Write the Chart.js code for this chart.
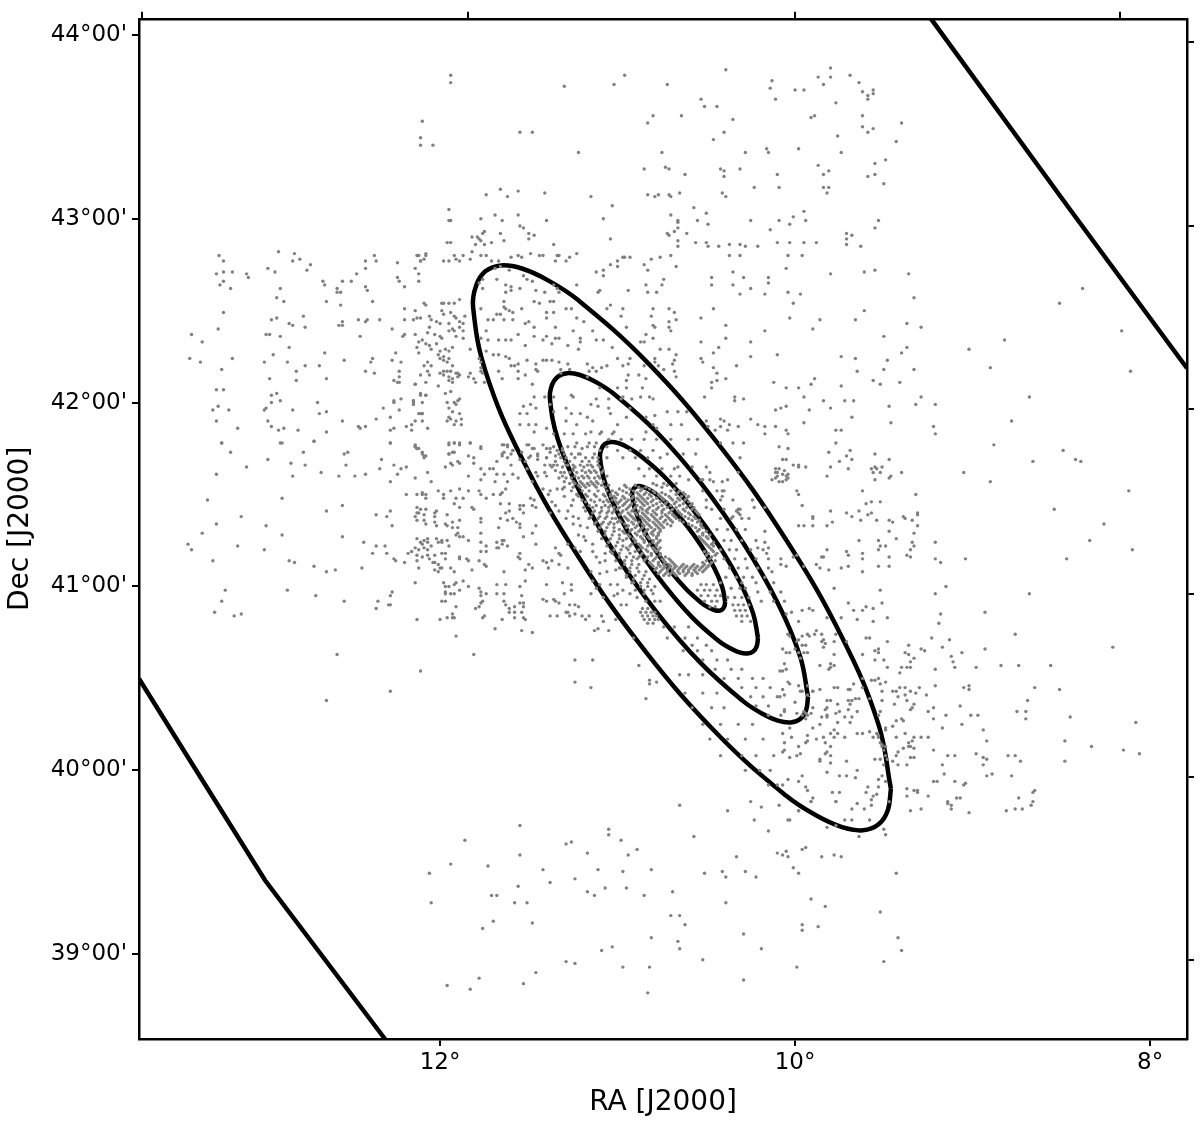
<!DOCTYPE html>
<html>
<head>
<meta charset="utf-8">
<title>M31 RA / Dec</title>
<script src="https://cdn.jsdelivr.net/npm/chart.js@4"></script>
<style>
  body { margin: 0; background: #fff; }
  canvas { display: block; }
</style>
</head>
<body>
<canvas id="skyChart" width="1200" height="1124"></canvas>
<script>
// axis ticks (degrees)
const raLabelTicks = [12, 10, 8];
const decLabelTicks = [44, 43, 42, 41, 40, 39];
const raTopTicks = [13.679, 11.842, 10.0, 8.169];
const decRightTicks = [43.962, 42.958, 41.964, 40.957, 39.966, 38.967];

// contours, [ra, dec]
const contourOuter = [[9.460,39.900],[9.478,39.782],[9.531,39.705],[9.618,39.674],[9.735,39.691],[9.880,39.754],[10.048,39.860],[10.432,40.192],[10.842,40.646],[11.226,41.170],[11.539,41.697],[11.743,42.167],[11.814,42.520],[11.796,42.638],[11.743,42.715],[11.656,42.746],[11.539,42.729],[11.394,42.666],[11.226,42.560],[10.842,42.228],[10.432,41.774],[10.048,41.250],[9.735,40.723],[9.531,40.253],[9.460,39.900]];
const contourSecond = [[9.927,40.400],[9.938,40.327],[9.971,40.279],[10.024,40.260],[10.097,40.270],[10.187,40.309],[10.291,40.375],[10.528,40.580],[10.780,40.861],[11.018,41.185],[11.211,41.511],[11.337,41.802],[11.381,42.020],[11.370,42.094],[11.337,42.141],[11.284,42.160],[11.211,42.150],[11.121,42.111],[11.018,42.045],[10.780,41.840],[10.528,41.559],[10.291,41.235],[10.097,40.909],[9.971,40.618],[9.927,40.400]];
const contourThird = [[10.209,40.720],[10.216,40.675],[10.236,40.646],[10.269,40.635],[10.313,40.641],[10.368,40.665],[10.432,40.705],[10.577,40.829],[10.731,41.0],[10.877,41.195],[10.995,41.392],[11.072,41.568],[11.099,41.700],[11.092,41.745],[11.072,41.774],[11.039,41.785],[10.995,41.779],[10.940,41.755],[10.877,41.715],[10.731,41.591],[10.577,41.421],[10.432,41.225],[10.313,41.028],[10.236,40.852],[10.209,40.720]];
const contourInner = [[10.394,40.918],[10.398,40.892],[10.410,40.875],[10.429,40.868],[10.455,40.872],[10.488,40.886],[10.525,40.909],[10.610,40.982],[10.702,41.083],[10.787,41.198],[10.857,41.314],[10.902,41.418],[10.918,41.496],[10.914,41.522],[10.902,41.539],[10.883,41.546],[10.857,41.542],[10.824,41.528],[10.787,41.505],[10.702,41.432],[10.610,41.331],[10.525,41.216],[10.455,41.100],[10.410,40.996],[10.394,40.918]];
const boundaryNorth = [[9.234,44.087],[8.451,43.05],[7.792,42.187]];
const boundarySouth = [[13.696,40.498],[13.437,40.097],[12.986,39.402],[12.31,38.539]];

// stars, flat lists: ra, dec, ra, dec ...
const starsEastUpper = [13.245,42.80,13.22,42.77,13.26,42.70,13.22,42.71,13.17,42.71,13.22,42.66,13.24,42.64,13.18,42.62,13.09,42.70,13.08,42.68,12.91,42.82,12.82,42.81,12.83,42.77,12.79,42.78,12.97,42.73,12.93,42.71,12.73,42.75,12.75,42.72,12.90,42.62,12.92,42.57,12.88,42.55,12.66,42.66,12.65,42.64,12.55,42.66,12.50,42.66,12.47,42.70,12.42,42.73,12.42,42.77,12.37,42.80,12.36,42.77,12.58,42.62,12.56,42.60,12.58,42.60,12.42,42.63,12.41,42.61,12.64,42.55,12.56,42.53,12.38,42.55,13.22,42.49,13.25,42.40,13.40,42.37,13.34,42.33,13.41,42.24,13.35,42.22,13.17,42.24,13.23,42.18,13.26,42.07,13.22,42.07,13.28,41.96,13.25,41.98,13.19,41.96,13.26,41.90,13.14,41.86,13.23,41.78,12.95,42.45,12.92,42.46,12.85,42.43,12.83,42.42,12.77,42.47,12.76,42.41,12.98,42.37,12.96,42.37,12.90,42.36,12.85,42.30,12.94,42.26,12.99,42.22,12.86,42.22,12.81,42.17,12.76,42.20,12.68,42.20,12.65,42.27,12.96,42.13,12.81,42.12,12.64,42.13,12.54,42.23,12.39,42.22,12.38,42.24,12.42,42.17,12.37,42.16,12.57,42.42,12.55,42.44,12.55,42.42,12.46,42.45,12.42,42.44,12.41,42.45,12.34,42.45,12.45,42.36,12.24,42.76,12.14,42.73,12.12,42.70,12.12,42.66,12.24,42.68,12.23,42.66,12.20,42.63,12.12,42.80,12.11,42.77,12.08,42.81,12.20,42.51,12.14,42.50,12.20,42.45,12.15,42.45,12.13,42.46,12.11,42.46,12.27,42.40,12.21,42.36,12.20,42.37,12.14,42.37,12.25,42.27,12.27,42.23,12.22,42.22,12.23,42.17,12.23,42.14,12.26,42.12,12.24,42.11,12.23,42.11,12.14,42.10,12.22,42.02,12.26,42.01,12.26,42.00,12.32,41.97,12.23,41.96,12.36,41.91,12.28,41.92,12.28,41.85,12.26,41.86,12.28,41.78,12.46,41.87,12.45,41.86,12.42,41.87,12.55,41.90,12.69,42.00,12.68,41.94,12.64,41.95,12.64,41.84,12.71,41.79,12.95,41.87,12.91,41.85,12.88,41.86,12.97,41.90,12.80,41.85,12.90,41.78,12.83,41.96,12.99,41.96,12.98,41.97,12.95,42.00,12.90,42.01,12.95,42.04,12.92,42.05,12.11,42.05,12.08,42.04,12.15,42.01,12.15,41.99,12.10,42.00,12.11,41.94,12.10,41.94,12.14,41.90,12.10,41.90,12.19,41.87,12.16,41.88,12.16,41.85,12.07,41.86,12.14,41.76,12.12,41.75];
const starsNorth = [11.94,43.78,11.94,43.74,11.30,43.72,11.02,43.73,10.96,43.78,10.72,43.73,10.39,43.81,10.13,43.75,10.14,43.71,10.11,43.65,10.00,43.70,9.95,43.70,9.87,43.77,9.80,43.82,9.80,43.77,9.84,43.73,9.69,43.78,9.64,43.74,9.62,43.69,9.56,43.70,9.56,43.68,9.59,43.67,9.59,43.65,9.77,43.63,10.53,43.65,10.51,43.61,10.44,43.61,10.80,43.56,10.83,43.52,10.64,43.56,10.35,43.54,9.91,43.55,9.89,43.56,9.62,43.56,9.40,43.52,12.10,43.53,12.11,43.44,12.11,43.40,12.04,43.40,11.55,43.47,11.48,43.47,10.40,43.47,10.46,43.43,9.62,43.50,9.59,43.47,9.56,43.49,9.76,43.45,9.43,43.42,11.22,43.36,10.75,43.36,10.28,43.36,10.16,43.38,10.15,43.36,9.98,43.38,9.74,43.36,10.85,43.27,10.73,43.28,10.71,43.27,10.62,43.24,10.42,43.27,10.40,43.26,10.40,43.23,10.31,43.27,10.10,43.24,9.87,43.29,9.81,43.26,9.84,43.24,9.55,43.30,9.49,43.32,9.59,43.23,9.55,43.24,9.50,43.19,10.23,43.17,10.09,43.17,9.84,43.17,9.81,43.17,9.82,43.14,10.41,43.14,10.39,43.12,10.65,43.14,10.71,43.13,10.70,43.12,10.83,43.13,10.79,43.12,10.77,43.13,11.15,43.12,11.03,43.07,11.41,43.14,11.56,43.15,11.66,43.16,11.62,43.12,11.74,43.13,11.95,43.05,11.95,42.99,11.94,42.99,11.77,43.00,11.69,43.02,11.65,42.99,11.56,43.02,11.40,42.99,11.08,43.00,10.70,43.02,10.57,43.06,10.50,43.03,10.55,42.99,10.49,42.97,10.66,42.99,10.66,42.98,10.66,42.95,10.25,42.99,10.09,42.99,10.01,43.01,10.03,42.97,9.94,42.99,9.95,43.04,10.14,42.94,9.53,42.99,9.55,42.95,9.71,42.92,9.68,42.91,9.71,42.89,9.71,42.86,11.55,42.96,11.53,42.95,11.50,42.92,11.47,42.91,11.50,42.89,11.66,42.92,11.64,42.88,11.75,42.93,11.76,42.92,11.82,42.90,11.79,42.90,11.78,42.89,11.77,42.88,11.80,42.86,11.75,42.86,11.71,42.87,11.96,42.87,11.94,42.87,11.36,42.86,11.04,42.89,10.72,42.92,10.71,42.91,10.68,42.93,10.61,42.92,10.66,42.88,10.66,42.85,10.56,42.87,10.49,42.85,10.37,42.86,10.28,42.85,10.10,42.87,9.95,42.87,12.13,42.80,12.08,42.80,12.11,42.77,12.09,42.78,11.98,42.77,11.95,42.77,11.92,42.80,11.91,42.78,11.89,42.77,11.87,42.80,11.83,42.78,11.82,42.82,11.77,42.80,11.74,42.80,11.71,42.77,11.67,42.77,11.60,42.79,11.56,42.80,11.54,42.79,11.49,42.81,11.44,42.80,11.42,42.80,11.34,42.80,11.33,42.80,11.35,42.77,11.29,42.77,11.27,42.79,11.23,42.81,11.00,42.77,10.97,42.79,10.96,42.79,10.81,42.78,10.70,42.80,10.37,42.80,10.04,42.80];
const starsWestUpper = [10.31,42.86,10.21,42.85,10.43,42.85,10.50,42.87,10.03,42.87,9.88,42.87,9.63,42.85,10.31,42.80,9.96,42.80,10.35,42.71,10.29,42.68,10.47,42.68,10.47,42.64,10.35,42.64,10.25,42.62,10.31,42.59,10.17,42.59,10.15,42.68,10.15,42.65,10.05,42.73,9.80,42.70,9.61,42.71,9.55,42.72,9.36,42.70,10.04,42.60,9.97,42.59,10.01,42.54,9.33,42.57,10.46,42.51,9.61,42.50,10.53,42.46,10.03,42.46,9.86,42.45,9.66,42.45,10.39,42.42,10.17,42.39,9.90,42.40,9.37,42.43,9.29,42.41,9.50,42.36,8.51,42.54,8.38,42.62,8.16,42.39,8.11,42.17,8.82,42.34,9.02,42.29,8.90,42.19,10.39,42.35,10.25,42.33,10.53,42.33,10.43,42.30,10.46,42.27,10.25,42.25,10.10,42.26,9.37,42.30,9.40,42.27,9.74,42.25,9.66,42.24,9.48,42.23,10.33,42.20,10.46,42.19,10.44,42.16,9.65,42.17,9.50,42.18,9.33,42.18,10.53,42.24,10.52,42.22,10.39,42.13,10.44,42.12,10.47,42.11,10.47,42.08,10.12,42.11,10.05,42.08,9.98,42.08,9.91,42.10,9.89,42.13,9.74,42.09,9.56,42.12,9.52,42.10,9.41,42.11,10.51,42.03,10.34,42.03,10.34,42.01,10.29,42.02,9.95,42.03,9.84,42.01,9.72,42.01,9.67,42.01,9.29,42.03,9.21,41.99,9.32,41.99,9.47,41.98,8.68,42.03,10.05,41.98,10.08,41.97,10.11,41.96,9.92,41.96,9.80,41.97,9.68,41.92,10.25,41.91,10.21,41.88,10.42,41.91,10.40,41.90,10.50,41.90,10.49,41.87,10.45,41.85,10.42,41.87,10.38,41.85,10.37,41.88,10.32,41.87,10.17,41.87,10.17,41.83,10.11,41.87,10.05,41.85,10.04,41.83,9.95,41.89,9.77,41.85,9.74,41.85,9.77,41.78,9.46,41.89,9.22,41.87,9.21,41.83,8.78,41.90,8.88,41.77,10.42,41.78,10.35,41.78,10.29,41.78,10.09,41.76,10.04,41.75,10.31,41.70,9.81,41.73,9.71,41.71,9.69,41.74,9.68,41.69,9.75,41.68,9.80,41.65,9.70,41.64,9.82,41.60,9.55,41.72,9.47,41.69,9.51,41.65,9.57,41.64,9.55,41.65,9.54,41.64,9.52,41.62,9.56,41.62,9.55,41.58,9.47,41.59,9.46,41.60,9.40,41.62,10.07,41.69,10.05,41.69,10.01,41.66,9.98,41.65,9.98,41.66,9.94,41.65,10.11,41.64,10.09,41.64,10.06,41.63,10.04,41.61,10.11,41.62,10.10,41.62,10.07,41.61,10.05,41.60,10.10,41.60,10.13,41.58,10.11,41.59,10.09,41.57,10.07,41.57,10.05,41.58,10.04,41.59,8.49,41.74,8.42,41.69,8.39,41.68,8.66,41.68,9.05,41.62,8.90,41.57,10.48,41.62,10.32,41.62,10.46,41.57,10.41,41.57,10.52,41.58,10.41,41.52,10.41,41.49,9.99,41.52,9.98,41.50,9.96,41.44,9.62,41.52,9.60,41.45,9.57,41.46,9.52,41.46,9.32,41.50,8.12,41.52,8.54,41.42,8.26,41.34,8.34,41.25,8.10,41.20,8.47,41.15,10.24,41.47,10.23,41.43,10.17,41.43,10.33,41.41,10.31,41.42,10.32,41.40,10.31,41.39,10.35,41.38,10.50,41.43,9.90,41.38,9.90,41.37,9.98,41.33,9.95,41.33,9.90,41.33,9.82,41.33,9.79,41.35,9.80,41.41,9.71,41.40,9.68,41.38,9.64,41.41,9.59,41.39,9.57,41.40,9.63,41.36,9.54,41.36,9.47,41.36,9.45,41.35,9.39,41.38,9.38,41.37,9.34,41.36,9.31,41.40,9.31,41.39,9.31,41.33,9.47,41.30,9.33,41.29,9.43,41.26,9.64,41.25,9.53,41.25,9.52,41.22,9.49,41.22,9.53,41.20,9.33,41.22,9.34,41.24,9.35,41.20,9.21,41.24,10.17,41.30,10.21,41.21,10.15,41.21,10.16,41.18,10.15,41.15,10.17,41.24,9.82,41.20,9.85,41.16,9.84,41.16,9.71,41.19,9.70,41.17,9.62,41.18,9.62,41.15,9.47,41.16,9.37,41.17,9.35,41.16,9.21,41.15,9.18,41.13,9.04,41.15,10.08,41.15,9.99,41.17,10.01,41.16,10.08,41.12,10.05,41.11,9.95,41.11,10.13,41.08,9.88,41.12,9.86,41.10,9.81,41.09,9.74,41.10,9.70,41.11,9.62,41.08,9.53,41.11,9.47,41.11,9.78,40.99,9.52,40.98,9.21,40.96,9.15,41.00,8.68,40.96];
const starsWestLower = [8.93,40.86,9.18,40.85,9.19,40.80,8.76,40.74,8.93,40.66,8.21,40.67,9.23,40.72,9.13,40.71,9.17,40.67,9.36,40.68,9.29,40.66,9.27,40.65,9.38,40.64,9.36,40.63,9.33,40.61,9.35,40.59,9.40,40.56,9.37,40.56,9.35,40.56,9.41,40.53,9.12,40.62,9.06,40.64,9.11,40.59,9.10,40.56,9.21,40.55,8.98,40.56,8.84,40.57,8.74,40.57,8.56,40.57,9.21,40.46,9.02,40.46,9.05,40.45,9.02,40.44,8.65,40.45,8.51,40.44,9.41,40.45,9.38,40.45,9.30,40.45,9.45,40.43,9.43,40.43,9.35,40.43,9.32,40.42,9.38,40.41,9.42,40.40,9.26,40.41,9.37,40.38,8.69,40.38,9.33,40.36,9.34,40.34,9.35,40.33,9.44,40.36,9.22,40.34,9.25,40.32,9.07,40.35,9.01,40.30,8.97,40.30,9.15,40.30,9.22,40.28,8.75,40.32,8.70,40.32,8.70,40.28,8.45,40.29,8.08,40.26,9.43,40.27,9.40,40.28,9.39,40.27,9.45,40.24,9.49,40.23,9.49,40.22,9.17,40.23,9.06,40.25,8.94,40.22,9.43,40.18,9.38,40.20,9.33,40.18,9.29,40.18,9.25,40.18,9.36,40.15,9.34,40.16,9.36,40.13,9.39,40.12,9.35,40.13,9.33,40.12,8.92,40.16,8.48,40.16,8.33,40.13,8.15,40.11,8.06,40.09,8.48,40.05,9.22,40.11,9.42,40.10,9.43,40.08,9.45,40.05,9.42,40.03,9.37,40.03,9.35,40.07,9.33,40.07,9.14,40.08,9.10,40.08,9.17,40.03,8.98,40.09,8.94,40.07,8.92,40.06,8.94,40.03,8.80,40.08,8.76,40.08,8.73,40.05,9.16,39.98,8.89,39.98,8.92,39.97,8.78,39.97,9.10,39.94,9.22,39.94,9.20,39.94,9.05,39.92,9.04,39.93,9.37,39.90,9.33,39.89,9.31,39.89,9.31,39.88,9.37,39.86,9.25,39.86,8.65,39.89,8.66,39.88,8.74,39.85,8.66,39.83,8.67,39.81,9.09,39.85,9.07,39.85,9.14,39.83,9.14,39.82,9.12,39.81,9.12,39.79,9.35,39.78,9.29,39.79,9.02,39.77,8.81,39.78,8.76,39.79,8.72,39.79];
const starsInsideSouth = [9.70,40.91,9.67,40.87,9.62,40.87,9.60,40.89,9.56,40.88,9.51,40.91,9.74,40.83,9.65,40.82,9.56,40.81,9.48,40.83,9.82,40.83,9.77,40.74,9.71,40.70,9.60,40.72,9.58,40.72,9.48,40.70,9.53,40.66,9.55,40.65,9.53,40.64,9.62,40.63,9.55,40.60,9.50,40.60,9.48,40.56,9.78,40.70,9.78,40.63,9.86,40.57,9.80,40.58,9.78,40.57,9.80,40.56,9.81,40.55,9.85,40.74,9.88,40.76,9.89,40.74,9.93,40.74,9.96,40.73,9.92,40.73,9.98,40.81,9.96,40.87,9.92,40.88,9.90,40.87,9.85,40.70,9.84,40.71,9.83,40.69,9.84,40.67,9.94,40.68,9.96,40.68,9.95,40.64,9.93,40.64,9.62,40.50,9.57,40.49,9.55,40.49,9.53,40.50,9.52,40.47,9.49,40.48,9.67,40.47,9.62,40.45,9.69,40.44,9.70,40.44,9.78,40.45,9.76,40.45,9.86,40.44,9.90,40.43,9.51,40.43,9.58,40.39,9.64,40.39,9.66,40.39,9.70,40.38,9.68,40.38,9.51,40.38,9.80,40.38,9.82,40.38,9.76,40.36,9.69,40.36,9.70,40.33,9.82,40.34,9.83,40.33,9.65,40.32,9.52,40.32,9.53,40.30,9.75,40.32,9.77,40.31,9.82,40.30,9.82,40.29,9.85,40.29,9.72,40.29,9.68,40.29,9.76,40.26,9.69,40.26,9.86,40.25,9.90,40.23,9.78,40.22,9.76,40.20,9.80,40.20,9.78,40.18,9.84,40.18,9.88,40.17,9.93,40.19,9.93,40.16,9.94,40.15,9.72,40.18,9.65,40.20,9.62,40.20,9.58,40.21,9.56,40.18,9.53,40.19,9.54,40.20,9.53,40.18,9.52,40.15,9.51,40.14,9.49,40.13,9.51,40.13,9.50,40.11,9.49,40.08,9.48,40.06,9.52,40.06,9.55,40.06,9.50,40.03,9.83,40.15,9.80,40.13,9.80,40.08,9.83,40.09,9.82,40.10,9.86,40.06,9.86,40.05,9.80,40.04,9.71,40.05,9.98,40.13,9.99,40.08,9.97,40.09,10.03,40.07,10.06,40.11,10.07,40.10,10.06,40.15,10.02,40.18,10.07,40.20,9.82,39.99,9.75,39.97,9.71,39.97,9.66,39.96,9.65,40.00,9.51,39.97,9.53,39.95,9.49,39.94,9.96,39.97,10.04,39.95,9.98,39.94,9.94,39.91,9.93,39.89,10.07,39.92,9.59,39.91,9.53,39.91,9.79,39.88,9.75,39.88,9.60,39.88,9.56,39.86,9.54,39.87,9.57,39.84,9.90,39.85,9.91,39.83,9.77,39.83,9.65,39.82,9.47,39.83,9.68,39.79,9.61,39.79,9.57,39.81,9.98,39.78,10.04,39.73,9.82,39.69,9.77,39.70,9.72,39.73,9.68,39.73,9.58,39.73,9.50,39.68,9.49,39.65,9.64,39.64,10.05,40.85,10.02,40.86,10.04,40.74,10.03,40.73,9.98,40.71,9.99,40.70,10.00,40.66,9.98,40.64,9.97,40.61,10.03,40.64,10.05,40.64,10.07,40.66,10.06,40.58,10.05,40.55,10.07,40.54,10.085,40.54,10.04,40.48,10.03,40.47,9.98,40.46,9.93,40.46,10.07,40.44,9.97,40.43,9.96,40.43,9.93,40.41,9.90,40.43,10.06,40.41,10.085,40.40,10.00,40.37,10.06,40.33,10.06,40.32,9.94,40.31,9.95,40.32,9.93,40.30,9.96,40.30,9.94,40.28,9.99,40.31,9.91,40.31,9.90,40.34,10.03,40.23];
const starsEastLower = [13.23,41.78,12.89,41.78,12.71,41.79,13.18,41.73,13.09,41.65,13.26,41.61,12.97,41.69,12.84,41.67,12.77,41.73,12.76,41.66,12.83,41.60,12.67,41.62,12.54,41.72,12.52,41.73,12.53,41.66,12.57,41.60,12.48,41.60,12.42,41.61,12.34,41.64,12.33,41.69,12.26,41.66,12.22,41.64,12.19,41.65,12.24,41.61,12.28,41.57,12.28,41.78,12.14,41.77,12.13,41.75,12.10,41.72,12.09,41.71,12.09,41.70,12.14,41.59,12.07,41.62,12.05,41.57,11.95,41.77,11.92,41.78,11.89,41.77,11.95,41.72,11.92,41.73,11.94,41.67,11.89,41.67,11.97,41.65,11.93,41.66,11.84,41.71,11.84,41.60,13.31,41.47,12.89,41.48,13.26,41.34,13.12,41.38,12.98,41.33,13.34,41.29,12.89,41.28,13.42,41.23,13.40,41.20,13.14,41.22,12.99,41.20,13.28,41.14,12.64,41.41,12.55,41.44,12.85,41.14,12.82,41.13,12.71,41.11,12.64,41.08,12.59,41.09,12.55,41.27,12.43,41.24,12.44,41.10,12.36,41.39,12.28,41.41,12.30,41.38,12.27,41.33,12.38,41.18,12.36,41.22,12.31,41.22,12.30,41.18,12.26,41.15,12.25,41.14,12.20,41.13,12.19,41.50,12.13,41.50,12.10,41.51,12.10,41.50,12.08,41.50,12.08,41.48,12.01,41.52,11.98,41.50,11.98,41.48,11.94,41.52,11.91,41.48,11.89,41.53,11.87,41.48,11.92,41.45,11.89,41.43,11.84,41.52,12.13,41.43,12.11,41.42,12.08,41.42,12.13,41.40,12.12,41.40,12.09,41.39,12.14,41.38,12.13,41.36,12.09,41.36,12.08,41.34,12.02,41.41,12.03,41.40,12.03,41.38,12.03,41.35,12.02,41.33,11.96,41.39,11.97,41.34,11.96,41.33,11.93,41.35,11.89,41.36,11.93,41.32,11.90,41.32,11.90,41.29,11.91,41.28,11.89,41.27,11.87,41.27,11.84,41.25,12.13,41.26,12.11,41.24,12.09,41.25,12.07,41.26,12.07,41.24,12.10,41.23,12.14,41.21,12.12,41.20,12.09,41.21,12.07,41.20,12.05,41.22,12.02,41.26,12.01,41.24,11.99,41.25,11.99,41.24,11.96,41.25,11.95,41.22,12.18,41.18,12.16,41.19,12.13,41.17,12.10,41.16,12.07,41.17,12.06,41.15,12.03,41.17,11.99,41.18,11.97,41.18,12.13,41.14,11.97,41.15,12.04,41.13,12.03,41.13,12.01,41.12,12.00,41.10,11.99,41.10,12.12,41.10,12.03,41.09,12.01,41.08,11.94,41.10,11.92,41.08,11.89,41.16,11.89,41.15,11.85,41.15,11.84,41.14,12.14,41.02,11.98,41.02,11.97,41.00,11.95,41.00,11.92,41.01,11.91,41.02,11.87,41.03,11.84,41.00,11.89,40.98,13.21,40.98,13.23,40.92,13.27,40.86,13.16,40.84,13.12,40.85,12.86,40.98,12.70,40.95,12.54,40.92,12.35,40.92,12.36,40.88,12.29,40.90,12.28,40.90,12.28,40.95,12.27,40.97,11.99,40.92,11.97,40.97,11.97,40.96,11.94,40.96,11.92,40.96,11.97,40.92,11.91,40.89,12.13,40.82,12.00,40.82,11.96,40.83,11.93,40.83,11.93,40.85,11.92,40.83,11.91,40.73,12.58,40.63,12.11,40.54,12.28,40.43,12.64,40.38];
const starsSouth = [11.55,39.70,11.86,39.62,11.55,39.54,11.94,39.49,12.06,39.44,11.73,39.48,12.05,39.28,11.05,39.68,11.05,39.65,11.29,39.60,11.26,39.61,10.98,39.62,11.17,39.55,10.94,39.54,10.89,39.57,11.42,39.46,11.11,39.46,10.97,39.45,10.81,39.46,11.24,39.41,11.38,39.39,11.56,39.37,11.71,39.32,11.68,39.32,11.58,39.28,11.51,39.28,11.07,39.36,10.95,39.36,11.17,39.34,11.13,39.32,10.85,39.32,10.69,39.34,10.65,39.81,10.57,39.64,10.38,39.78,10.19,39.80,10.09,39.81,10.23,39.73,10.03,39.73,10.15,39.67,9.98,39.78,10.25,39.83,9.91,39.83,9.77,39.83,10.10,39.55,10.07,39.54,10.05,39.56,10.04,39.53,9.96,39.57,9.94,39.58,10.33,39.53,9.85,39.53,9.78,39.54,9.74,39.53,10.01,39.47,9.98,39.44,10.51,39.44,10.41,39.45,10.39,39.42,10.28,39.45,10.22,39.42,9.43,39.44,10.39,39.28,9.91,39.30,9.83,39.26,9.52,39.23,10.70,39.21,10.65,39.21,10.62,39.16,9.96,39.16,9.96,39.13,9.87,39.15,11.70,39.18,11.76,39.14,11.48,39.17,10.81,39.09,10.66,39.07,10.65,39.03,10.29,39.11,10.19,39.03,11.09,39.02,11.03,39.04,9.42,39.09,9.40,39.02,11.29,38.96,11.24,38.95,10.97,38.93,10.82,38.93,10.52,38.97,9.99,38.93,9.50,38.96,11.46,38.90,11.78,38.87,11.53,38.84,11.96,38.83,11.83,38.81,10.29,38.86,10.83,38.79];
const starsMidEast = [11.83,41.78,11.77,41.76,11.81,41.70,11.81,41.67,11.65,41.77,11.62,41.77,11.64,41.73,11.65,41.71,11.68,41.68,11.60,41.66,11.77,41.64,11.72,41.64,11.70,41.64,11.68,41.61,11.64,41.61,11.59,41.61,11.75,41.61,11.77,41.58,11.69,41.57,11.62,41.57,11.56,41.59,11.78,41.52,11.77,41.50,11.74,41.48,11.70,41.50,11.63,41.53,11.65,41.51,11.66,41.50,11.82,41.43,11.81,41.42,11.66,41.45,11.61,41.45,11.61,41.41,11.63,41.40,11.55,41.44,11.55,41.42,11.53,41.44,11.53,41.40,11.77,41.37,11.77,41.35,11.66,41.37,11.62,41.36,11.59,41.37,11.57,41.35,11.67,41.32,11.55,41.34,11.55,41.32,11.77,41.29,11.53,41.27,11.48,41.29,11.46,41.33,11.77,41.24,11.74,41.22,11.77,41.19,11.74,41.19,11.68,41.24,11.65,41.25,11.64,41.25,11.65,41.23,11.62,41.22,11.68,41.21,11.67,41.21,11.46,41.23,11.55,41.18,11.56,41.16,11.55,41.15,11.78,41.14,11.75,41.12,11.74,41.11,11.82,41.09,11.64,41.08,11.50,41.12,11.48,41.10,11.52,41.09,11.42,41.14,11.40,41.13,11.37,41.14,11.39,41.10,11.33,41.18,11.32,41.17,11.33,41.12,11.28,41.10,11.78,40.99,11.77,40.97,11.77,40.95,11.74,40.96,11.76,40.92,11.77,40.91,11.78,40.89,11.80,40.88,11.75,40.84,11.76,40.83,11.68,41.01,11.63,41.01,11.68,40.96,11.64,40.96,11.64,40.92,11.63,40.90,11.54,40.95,11.55,40.91,11.53,40.91,11.53,40.89,11.61,40.88,11.61,40.86,11.58,40.89,11.58,40.86,11.54,40.86,11.58,40.83,11.53,40.83,11.52,40.82,11.65,40.82,11.55,41.00,11.52,41.03,11.40,41.01,11.31,41.02,11.26,41.01,11.26,40.98,11.30,40.96,11.42,40.93,11.40,40.92,11.36,40.93,11.33,40.91,11.35,40.92,11.27,40.90,11.24,40.90,11.22,40.89,11.29,40.86,11.28,40.86,11.24,40.85,11.20,40.84,11.16,40.84,11.38,40.84,11.34,40.84,11.27,40.84,11.18,40.82,11.08,40.81,11.09,40.84,11.01,40.82,10.98,40.90,10.95,40.90,11.69,40.77,11.54,40.76,11.48,40.75,11.81,40.63,11.13,40.76,11.11,40.77,11.05,40.76,10.91,40.72,11.24,40.60,11.14,40.60,10.88,40.57,11.24,40.48,11.15,40.45,10.82,40.49,10.82,40.47,10.78,40.48,10.84,40.39];
const starsBetween = [11.50,41.77,11.48,41.75,11.59,41.74,11.60,41.72,11.54,41.73,11.49,41.71,11.45,41.71,11.45,41.69,11.55,41.69,11.52,41.68,11.40,41.75,11.38,41.73,11.40,41.70,11.41,41.66,11.38,41.66,11.35,41.71,11.33,41.72,11.31,41.74,11.34,41.66,11.35,41.63,11.41,41.62,11.40,41.60,11.46,41.62,11.45,41.60,11.51,41.64,11.48,41.57,11.32,41.62,11.33,41.59,11.28,41.66,11.25,41.64,11.26,41.72,11.30,41.68,11.49,41.48,11.47,41.47,11.42,41.53,11.38,41.52,11.39,41.50,11.34,41.53,11.31,41.53,11.48,41.44,11.46,41.43,11.37,41.46,11.35,41.44,11.33,41.41,11.38,41.40,11.30,41.49,11.25,41.47,11.26,41.44,11.28,41.41,11.29,41.37,11.25,41.38,11.22,41.37,11.25,41.34,11.21,41.33,11.17,41.32,11.19,41.27,11.22,41.28,11.14,41.23,11.18,41.25,11.24,41.21,11.28,41.23,11.35,41.21,11.21,41.19,11.14,41.19,11.12,41.16,11.07,41.18,11.10,41.13,11.07,41.14,11.04,41.19,11.15,41.08,11.10,41.07,11.06,41.08,11.01,41.09,10.99,41.10,11.14,41.03,11.10,41.01,11.04,41.01,11.00,41.01,11.15,40.96,11.12,40.99,11.08,40.94,11.02,40.95,11.00,40.96,10.97,40.98,10.93,40.96,10.89,40.94,10.95,41.05,10.91,41.02];
const starsNorthClump = [11.99,42.54,11.98,42.54,11.95,42.54,11.92,42.54,11.89,42.56,11.99,42.50,11.98,42.48,11.94,42.49,11.92,42.47,11.91,42.46,11.86,42.47,12.06,42.47,12.05,42.45,12.09,42.54,12.08,42.53,12.02,42.44,12.00,42.43,11.95,42.43,11.93,42.40,11.95,42.39,11.92,42.39,11.89,42.44,11.87,42.43,11.89,42.41,11.87,42.39,11.91,42.36,11.87,42.35,12.06,42.41,12.07,42.38,12.03,42.37,12.00,42.36,11.99,42.35,12.10,42.34,12.12,42.33,12.08,42.32,12.02,42.32,12.06,42.31,12.13,42.30,12.05,42.29,12.12,42.27,12.00,42.28,12.01,42.26,11.97,42.29,11.93,42.30,11.95,42.28,11.98,42.25,12.00,42.24,11.98,42.23,11.95,42.24,11.96,42.22,12.07,42.22,12.09,42.20,12.05,42.20,11.93,42.20,12.07,42.17,12.11,42.15,12.06,42.15,12.00,42.16,11.98,42.17,11.96,42.17,11.94,42.17,11.91,42.16,11.90,42.16,11.95,42.14,11.98,42.15,11.93,42.13,11.95,42.12,11.93,42.11,12.08,42.11,12.14,42.10,12.01,42.09,11.97,42.05,11.94,42.06,12.11,42.04,12.08,42.04,12.15,42.01,11.89,42.15,11.90,42.14,11.83,42.29,11.78,42.24,11.77,42.22,11.77,42.19,11.83,42.16,11.84,42.14,11.81,42.13,11.77,42.17,11.76,42.16,11.80,42.11,11.75,42.11,11.96,42.00,11.95,41.97,11.92,42.00,11.90,42.01,11.89,42.02,11.91,41.99,11.93,41.95,11.89,41.94,11.95,41.92,11.94,41.91,11.91,41.90,11.88,41.91,11.96,41.90,11.92,41.88,11.88,41.88,12.10,41.94,12.12,41.94,12.15,42.00,11.95,41.78,11.92,41.78,11.89,41.78,11.83,41.78,11.77,41.75,12.14,41.76,12.13,41.75,12.10,41.73,12.08,41.71,11.95,41.72,11.93,41.73,11.90,41.68];
const starsOuterTop = [11.69,42.73,11.66,42.74,11.61,42.72,11.76,42.67,11.78,42.65,11.76,42.62,11.68,42.67,11.63,42.64,11.60,42.63,11.60,42.61,11.63,42.60,11.53,42.69,11.51,42.67,11.48,42.66,11.46,42.61,11.55,42.62,11.36,42.64,11.34,42.62,11.33,42.60,11.41,42.60,11.23,42.64,11.77,42.51,11.64,42.55,11.64,42.52,11.63,42.51,11.61,42.50,11.66,42.48,11.68,42.48,11.59,42.49,11.54,42.51,11.73,42.45,11.70,42.45,11.64,42.45,11.59,42.45,11.47,42.55,11.44,42.54,11.38,42.55,11.36,42.55,11.40,42.49,11.36,42.49,11.40,42.46,11.52,42.43,11.50,42.44,11.47,42.41,11.35,42.41,11.29,42.51,11.26,42.51,11.23,42.46,11.19,42.44,11.25,42.39,11.74,42.39,11.77,42.35,11.73,42.34,11.67,42.34,11.63,42.34,11.60,42.34,11.56,42.37,11.52,42.31,11.47,42.36,11.42,42.34,11.40,42.36,11.35,42.35,11.33,42.35,11.37,42.32,11.21,42.35,11.21,42.33,11.28,42.31,11.22,42.29,11.74,42.28,11.70,42.26,11.67,42.26,11.63,42.25,11.61,42.24,11.51,42.23,11.56,42.21,11.60,42.20,11.58,42.20,11.42,42.23,11.40,42.23,11.37,42.23,11.33,42.22,11.46,42.21,11.46,42.18,11.45,42.17,11.67,42.17,11.65,42.13,11.56,42.17,11.56,42.13,11.52,42.15,11.48,42.10,11.32,42.18,11.28,42.21,11.27,42.18,11.32,42.16,11.17,42.21,11.16,42.17,11.14,42.19,11.09,42.19,11.06,42.20,11.17,42.14,11.12,42.17,11.12,42.71,11.08,42.72,11.08,42.69,11.04,42.75,11.00,42.74,10.93,42.79,10.85,42.75,10.83,42.72,10.76,42.79,10.67,42.74,10.84,42.64,10.74,42.67,10.75,42.64,10.83,42.60,10.78,42.60,10.94,42.61,11.10,42.61,11.11,42.60,10.97,42.51,10.98,42.47,11.06,42.51,11.04,42.53,10.80,42.51,10.81,42.47,10.80,42.42,10.79,42.41,10.71,42.51,10.68,42.49,10.71,42.44,10.71,42.41,10.67,42.45,10.70,42.39,10.84,42.37,10.85,42.33,10.87,42.33,10.80,42.35,10.95,42.41,11.03,42.30,11.08,42.34,11.12,42.34,11.14,42.39,10.76,42.29,10.71,42.29,10.68,42.23,10.69,42.21,10.67,42.26,10.79,42.24,10.79,42.22,10.93,42.24,11.00,42.24,10.94,42.21,10.85,42.20,10.77,42.20,10.74,42.18,10.68,42.17,10.67,42.14,10.88,42.15,10.84,42.13,10.94,42.15,10.95,42.12,10.97,42.20];
const starsSecondTop = [11.36,42.03,11.38,41.99,11.36,41.95,11.47,42.03,11.53,41.98,11.49,41.99,11.46,41.97,11.55,41.94,11.51,41.94,11.55,41.88,11.50,41.88,11.46,41.88,11.47,41.84,11.40,41.86,11.41,42.03,11.26,42.04,11.25,42.03,11.29,41.97,11.21,41.94,11.26,41.94,11.29,41.90,11.23,41.88,11.17,41.92,11.14,41.90,11.15,41.99,11.11,41.98,11.05,41.97,11.15,41.84,11.09,41.84,11.04,41.94,11.00,41.88,10.95,41.92,10.93,41.97,10.84,41.92,10.79,41.93,10.78,41.86,10.84,41.84,11.02,41.84,10.87,42.03,10.82,42.03,10.97,42.03,11.64,41.77,11.62,41.76,11.59,41.74,11.65,41.72,11.62,41.70,11.51,41.77,11.47,41.75,11.45,41.72,11.50,41.70,11.42,41.77,11.38,41.75,11.34,41.74,11.40,41.70,11.36,41.66,11.31,41.75,11.29,41.70,11.23,41.78,11.20,41.75,11.16,41.78,11.12,41.78,11.10,41.74,11.14,41.70,11.17,41.66,11.21,41.72,11.25,41.66];
// dense parts of the disc, one row per declination: [dec, [ra, ra, ...]]
const discRows = [
  [42.08,[11.10,11.00,10.95,10.86]],[42.02,[11.12,11.05,10.98,10.92,10.80]],[41.95,[10.72,10.66,10.61]],[41.88,[10.80,10.70,10.64]],
  [41.80,[11.05,10.98,10.92,10.85,10.78,10.70,10.60,10.55]],[41.74,[11.00,10.93,10.87,10.80]],[41.72,[11.30,11.22,11.13,10.72,10.63,10.56]],
  [41.70,[10.97,10.90,10.83,10.76]],[41.68,[11.35,11.27,11.20,11.16,11.11]],[41.65,[11.37,11.31,11.24,11.19,11.14,11.10,10.66,10.58,10.50]],
  [41.64,[10.88,10.82,10.75,10.68]],[41.62,[11.30,11.27,11.23,11.18,11.15,11.12,11.09]],[41.60,[10.85,10.78,10.70,10.65]],
  [41.59,[11.29,11.26,11.22,11.19,11.16,11.13,11.10]],[41.58,[10.60,10.53,10.48,10.38]],[41.56,[11.27,11.24,11.20,11.17,11.14,11.11,10.80,10.74,10.67]],
  [41.55,[10.96,10.90,10.78,10.72]],[41.54,[11.30,11.25,11.21,11.18,11.12,11.07]],[41.53,[10.99,10.93,10.86,10.82,10.68]],
  [41.52,[10.52,10.44,10.40]],[41.51,[11.01,10.95,10.89,10.84,10.79,10.75,10.66,10.63]],[41.50,[11.23,11.18,11.13,11.08,11.04]],
  [41.49,[11.02,10.97,10.91,10.87,10.81,10.76,10.71,10.64,10.60]],[41.47,[11.20,11.15,11.10,11.06,11.03,10.98,10.94,10.88,10.85,10.80,10.74,10.69,10.65,10.62,10.50,10.42,10.35]],
  [41.45,[11.00,10.96,10.92,10.86,10.83,10.78,10.73,10.68,10.63,10.58]],[41.44,[11.16,11.12,11.07,11.04]],[41.43,[10.99,10.94,10.90,10.87,10.82,10.77,10.72,10.67,10.61,10.57]],
  [41.42,[10.47,10.40,10.32]],[41.41,[11.18,11.13,11.09,11.05,11.02,10.97,10.92,10.88,10.84,10.80,10.75,10.70,10.66,10.62,10.56]],
  [41.39,[10.99,10.93,10.89,10.85,10.81,10.78,10.73,10.69,10.64,10.59,10.54]],[41.38,[11.15,11.10,11.06]],
  [41.37,[11.01,10.95,10.91,10.86,10.83,10.79,10.76,10.71,10.67,10.60,10.56,10.42,10.36,10.30,10.26]],[41.35,[11.12,11.08,11.04,11.00,10.98,10.92,10.88,10.84,10.80,10.77,10.74,10.69,10.63,10.55]],
  [41.33,[10.94,10.89,10.85,10.82,10.78,10.75,10.70,10.58,10.53]],[41.32,[11.10,11.06,11.02]],[41.31,[10.99,10.92,10.87,10.83,10.79,10.76,10.54,10.44,10.38,10.33,10.28]],
  [41.29,[10.96,10.90,10.85,10.81,10.77,10.52]],[41.28,[11.07,11.03,10.99]],[41.27,[10.93,10.87,10.83,10.78,10.54,10.50]],
  [41.25,[10.97,10.90,10.85,10.80,10.76,10.52,10.40,10.36,10.30,10.22]],[41.24,[11.05,11.00]],[41.23,[10.92,10.88,10.82,10.78,10.50,10.47]],
  [41.21,[10.95,10.86,10.80,10.76,10.48]],[41.20,[11.02,10.98,10.94,10.42,10.37,10.33,10.25,10.18]],[41.19,[10.90,10.83,10.78,10.51,10.46]],
  [41.17,[10.87,10.81,10.76,10.50,10.45]],[41.16,[10.99,10.95,10.91]],[41.15,[10.89,10.84,10.79,10.75,10.71,10.48,10.40,10.34,10.28,10.22]],
  [41.13,[10.82,10.77,10.73,10.69,10.52,10.47]],[41.12,[10.96,10.92,10.88]],[41.11,[10.80,10.76,10.73,10.70,10.67,10.64,10.61,10.58,10.55,10.52,10.49]],
  [41.10,[10.37,10.32,10.27,10.21,10.15]],[41.09,[10.79,10.75,10.72,10.69,10.66,10.63,10.60,10.57,10.54,10.51]],[41.08,[10.93,10.88,10.84]],
  [41.07,[10.77,10.73,10.70,10.68,10.65,10.61,10.58,10.55]],[41.05,[10.39,10.33,10.29,10.24,10.17]],[41.04,[10.91,10.86,10.82]],
  [41.02,[10.42,10.30,10.22,10.12]],[41.01,[10.53,10.50,10.46]],[41.00,[10.87,10.83,10.79]],[40.99,[10.36,10.31,10.28]],
  [40.98,[10.55,10.51,10.48,10.44]],[40.97,[10.21,10.14,10.08]],[40.96,[10.85,10.80]],[40.95,[10.53,10.49,10.45,10.42]],
  [40.94,[10.38,10.34,10.30,10.26]],[40.92,[10.84,10.79,10.76,10.51,10.47,10.44,10.19,10.12,10.06]],[40.90,[10.35,10.32,10.29,10.26]],
  [40.89,[10.48,10.45]],[40.88,[10.86,10.83]],[40.87,[10.34,10.31,10.28]],[40.86,[10.87,10.84,10.81,10.79]],[40.84,[10.86,10.83,10.80,10.78,10.33,10.30,10.27]],
  [40.82,[10.85,10.82,10.79,10.77]],[40.81,[10.30,10.25]],[40.80,[10.83,10.80]],[40.78,[10.74,10.68,10.60]],[40.72,[10.72,10.62,10.55]],
  [40.68,[10.58,10.50]],[40.65,[10.63,10.55,10.47]],[40.60,[10.52,10.44,10.38]],[40.55,[10.45,10.36,10.30]],[40.52,[10.65,10.60,10.52]],
  [40.50,[10.40,10.32,10.24,10.18]],[40.45,[10.30,10.22,10.14]],[40.42,[10.62,10.52,10.44]],[40.40,[10.25,10.18,10.10]],[40.35,[10.22,10.15]],
  [40.34,[10.58,10.47,10.40]],[40.30,[10.15,10.08]],[40.25,[10.52,10.42,10.32,10.24]],[40.17,[10.48,10.38,10.28,10.18]],[40.08,[10.42,10.30,10.22,10.12]],
  [40.00,[10.28,10.20,10.14]],[39.92,[10.15,10.10]]
];
// second pass over the core and the east side of the disc
const discFillRows = [
  [41.54,[10.95,10.88,10.84,10.75]],[41.52,[10.97,10.91,10.87,10.80,10.70,10.65]],[41.50,[11.00,10.93,10.88,10.85,10.82,10.77,10.73,10.67,10.62]],
  [41.48,[11.01,10.96,10.92,10.89,10.86,10.83,10.78,10.75,10.70,10.66,10.61]],[41.46,[10.99,10.95,10.90,10.87,10.84,10.81,10.76,10.72,10.67,10.60]],
  [41.44,[10.97,10.93,10.89,10.85,10.80,10.75,10.70,10.65,10.59]],[41.42,[11.00,10.95,10.91,10.86,10.83,10.78,10.74,10.69,10.63,10.58]],
  [41.40,[10.98,10.94,10.90,10.86,10.83,10.79,10.75,10.71,10.65,10.60,10.55]],[41.38,[10.96,10.92,10.87,10.84,10.80,10.75,10.72,10.68,10.62,10.57]],
  [41.36,[10.99,10.94,10.90,10.85,10.82,10.78,10.73,10.70,10.65,10.58,10.54]],[41.34,[10.96,10.91,10.86,10.83,10.79,10.76,10.72,10.60,10.53]],
  [41.32,[10.95,10.90,10.86,10.81,10.77,10.74,10.56,10.52]],[41.30,[10.93,10.88,10.84,10.80,10.76,10.55,10.50]],[41.28,[10.94,10.89,10.85,10.80,10.77,10.52,10.48]],
  [41.26,[10.95,10.91,10.86,10.82,10.78,10.53,10.49]],[41.24,[10.90,10.85,10.80,10.77,10.51,10.46]],[41.22,[10.93,10.87,10.83,10.78,10.49,10.46]],
  [41.20,[10.88,10.84,10.79,10.77,10.47]],[41.18,[10.86,10.81,10.76,10.49,10.44]],[41.16,[10.88,10.83,10.78,10.73,10.47]],[41.14,[10.85,10.80,10.74,10.70,10.50,10.45]],
  [41.12,[10.81,10.77,10.74,10.71,10.68,10.63,10.57,10.51,10.48]],[41.10,[10.78,10.74,10.71,10.68,10.65,10.62,10.59,10.56,10.53,10.50]],
  [41.08,[10.76,10.72,10.69,10.66,10.63,10.60,10.56,10.52]],[41.06,[10.74,10.71,10.67,10.62,10.58]],
  [41.83,[11.36,11.30,11.25,11.18,11.10,11.03]],[41.76,[11.36,11.28,11.24,11.17,11.13,11.06]],[41.70,[11.32,11.24,11.18,11.11,11.06]],[41.66,[11.29,11.21,11.15,11.11]],
  [41.63,[11.25,11.20,11.16,11.13,11.08]],[41.60,[11.31,11.24,11.20,11.17,11.11,11.06]],[41.57,[11.30,11.25,11.21,11.15,11.12,11.08]],[41.55,[11.22,11.19,11.16,11.13,11.09,11.05]],
  [41.52,[11.26,11.20,11.16,11.11,11.06,11.03]],[41.49,[11.22,11.17,11.12,11.07,11.04]],[41.46,[11.18,11.13,11.08,11.05,11.01]],[41.43,[11.19,11.14,11.09,11.05,11.02]],
  [41.40,[11.14,11.10,11.06,11.03]],[41.37,[11.16,11.11,11.07,11.03]],[41.34,[11.13,11.09,11.05,11.02]],[41.30,[11.11,11.07,11.02,10.97]],[41.26,[11.09,11.04,10.99]],
  [41.22,[11.06,11.01,10.97]],[41.18,[11.03,10.99,10.93]],[41.14,[11.01,10.96,10.92]],[41.10,[10.98,10.93,10.89]],[41.06,[10.95,10.90,10.85]],[41.02,[10.92,10.87,10.83]],[40.98,[10.90,10.85,10.81]]
];

function pairsToPoints(list) {
    const out = [];
    for (let i = 0; i < list.length; i += 2) out.push({ x: list[i], y: list[i + 1] });
    return out;
}

const starPoints = [
    starsEastUpper, starsNorth, starsWestUpper, starsWestLower, starsInsideSouth,
    starsEastLower, starsSouth, starsMidEast, starsBetween, starsNorthClump, starsOuterTop, starsSecondTop
].flatMap(pairsToPoints);
discRows.concat(discFillRows).forEach(function (row) {
    row[1].forEach(ra => starPoints.push({ x: ra, y: row[0] }));
});

function curve(points, tension) {
    return {
        data: points.map(p => ({ x: p[0], y: p[1] })),
        showLine: true,
        borderColor: '#000',
        borderWidth: 4.5,
        pointRadius: 0,
        tension: tension,
        order: 1
    };
}

const frame = { display: true, color: '#000', width: 2.5 };
const tickLines = { drawOnChartArea: false, drawTicks: true, tickLength: 7, color: '#000', lineWidth: 2 };
const labelFont = { family: 'DejaVu Sans', size: 23 };
const titleFont = { family: 'DejaVu Sans', size: 28 };

function fixedTicks(values) {
    return axis => { axis.ticks = values.map(v => ({ value: v })); };
}

new Chart(document.getElementById('skyChart'), {
    type: 'scatter',
    data: {
        datasets: [
            { data: starPoints, backgroundColor: '#808080', borderWidth: 0, pointRadius: 1.7, order: 0 },
            curve(contourOuter, 0.4), curve(contourSecond, 0.4), curve(contourThird, 0.4), curve(contourInner, 0.4),
            curve(boundaryNorth, 0), curve(boundarySouth, 0)
        ]
    },
    options: {
        responsive: false,
        animation: false,
        events: [],
        layout: { padding: 0 },
        plugins: { legend: { display: false }, tooltip: { enabled: false } },
        scales: {
            x: {
                type: 'linear', position: 'bottom', reverse: true, min: 7.792, max: 13.696,
                afterBuildTicks: fixedTicks(raLabelTicks),
                afterFit: s => { s.height = 85; },
                border: frame, grid: tickLines,
                ticks: { color: '#000', font: labelFont, padding: 3, maxRotation: 0, autoSkip: false, callback: v => v + '°' },
                title: { display: true, text: 'RA [J2000]', color: '#000', font: titleFont, padding: { top: 0, bottom: 4 } }
            },
            y: {
                type: 'linear', position: 'left', min: 38.539, max: 44.087,
                afterBuildTicks: fixedTicks(decLabelTicks),
                afterFit: s => { s.width = 139; },
                border: frame, grid: tickLines,
                ticks: { color: '#000', font: labelFont, padding: 5, autoSkip: false, callback: v => v + "°00'" },
                title: { display: true, text: 'Dec [J2000]', color: '#000', font: titleFont, padding: { top: 4, bottom: 0 } }
            },
            x2: {
                type: 'linear', position: 'top', reverse: true, min: 7.792, max: 13.696,
                afterBuildTicks: fixedTicks(raTopTicks),
                afterFit: s => { s.height = 17; },
                border: frame, grid: tickLines,
                ticks: { display: false }
            },
            y2: {
                type: 'linear', position: 'right', min: 38.539, max: 44.087,
                afterBuildTicks: fixedTicks(decRightTicks),
                afterFit: s => { s.width = 13; },
                border: frame, grid: tickLines,
                ticks: { display: false }
            }
        }
    }
});
</script>
</body>
</html>
